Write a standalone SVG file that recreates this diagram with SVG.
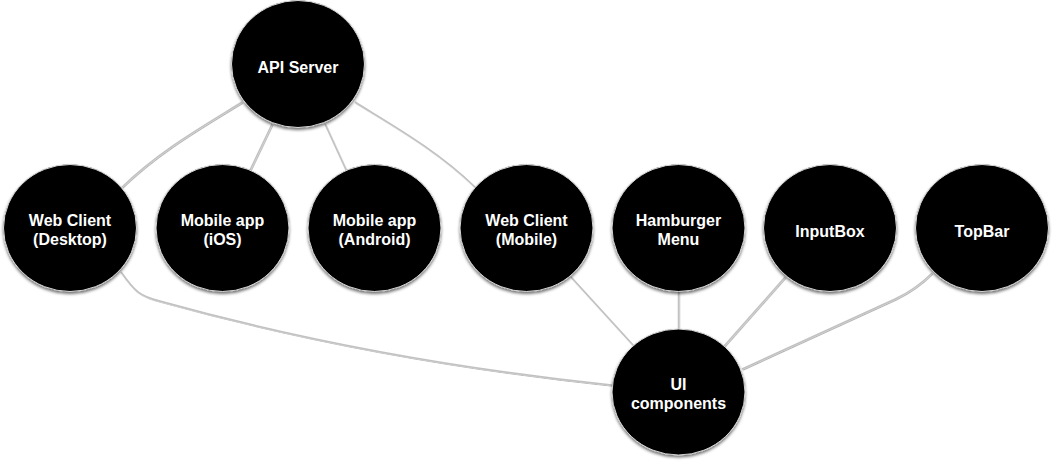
<svg xmlns="http://www.w3.org/2000/svg" width="1053" height="462" viewBox="0 0 1053 462">
<defs>
<filter id="nodeShadow" x="-20%" y="-20%" width="140%" height="145%">
<feDropShadow dx="0" dy="2" stdDeviation="1.6" flood-color="#000" flood-opacity="0.55"/>
</filter>
<filter id="edgeShadow" filterUnits="userSpaceOnUse" x="0" y="0" width="1053" height="462">
<feDropShadow dx="0.8" dy="1" stdDeviation="0.5" flood-color="#000" flood-opacity="0.3"/>
</filter>
<style>
.node ellipse{fill:#000;stroke:#d6d6d6;stroke-width:1;filter:url(#nodeShadow)}
.node text{fill:#fff;font-family:"Liberation Sans",Arial,Helvetica,sans-serif;font-weight:bold;font-size:16px;text-anchor:middle}
#connectors path{fill:none;stroke:#c2c2c2;stroke-width:1.5;filter:url(#edgeShadow)}
</style>
</defs>
<rect width="1053" height="462" fill="#fff"/>
<g id="connectors">
<path d="M242,102 C205,125 160,150 122,187"/>
<path d="M272,124 L250,170"/>
<path d="M325,124 L347,172"/>
<path d="M355,102 C392,125 437,150 475,187"/>
<path d="M121,272 C135,292 140,296 160,301 C300,340 450,368 612,385"/>
<path d="M571,277 L633,345"/>
<path d="M678.5,290 L678.5,331"/>
<path d="M785,277 L724,346"/>
<path d="M932,273 C920,285 910,292 895,299 L742,369"/>
</g>
<g id="api-server" class="node">
<ellipse cx="298" cy="64" rx="66.5" ry="63.5"/>
<text x="298" y="72.5">API Server</text>
</g>
<g id="web-client-desktop" class="node">
<ellipse cx="70" cy="228" rx="66.5" ry="63.5"/>
<text x="70" y="226">Web Client</text>
<text x="70" y="245">(Desktop)</text>
</g>
<g id="mobile-app-ios" class="node">
<ellipse cx="222.5" cy="228" rx="66.5" ry="63.5"/>
<text x="222.5" y="226">Mobile app</text>
<text x="222.5" y="245">(iOS)</text>
</g>
<g id="mobile-app-android" class="node">
<ellipse cx="374.5" cy="228" rx="66.5" ry="63.5"/>
<text x="374.5" y="226">Mobile app</text>
<text x="374.5" y="245">(Android)</text>
</g>
<g id="web-client-mobile" class="node">
<ellipse cx="526.5" cy="228" rx="66.5" ry="63.5"/>
<text x="526.5" y="226">Web Client</text>
<text x="526.5" y="245">(Mobile)</text>
</g>
<g id="hamburger-menu" class="node">
<ellipse cx="678.5" cy="228" rx="66.5" ry="63.5"/>
<text x="678.5" y="226">Hamburger</text>
<text x="678.5" y="245">Menu</text>
</g>
<g id="inputbox" class="node">
<ellipse cx="830" cy="228" rx="66.5" ry="63.5"/>
<text x="830" y="236.5">InputBox</text>
</g>
<g id="topbar" class="node">
<ellipse cx="982" cy="228" rx="66.5" ry="63.5"/>
<text x="982" y="236.5">TopBar</text>
</g>
<g id="ui-components" class="node">
<ellipse cx="678.5" cy="392" rx="66.5" ry="63"/>
<text x="678.5" y="390">UI</text>
<text x="678.5" y="408.5">components</text>
</g>
</svg>
